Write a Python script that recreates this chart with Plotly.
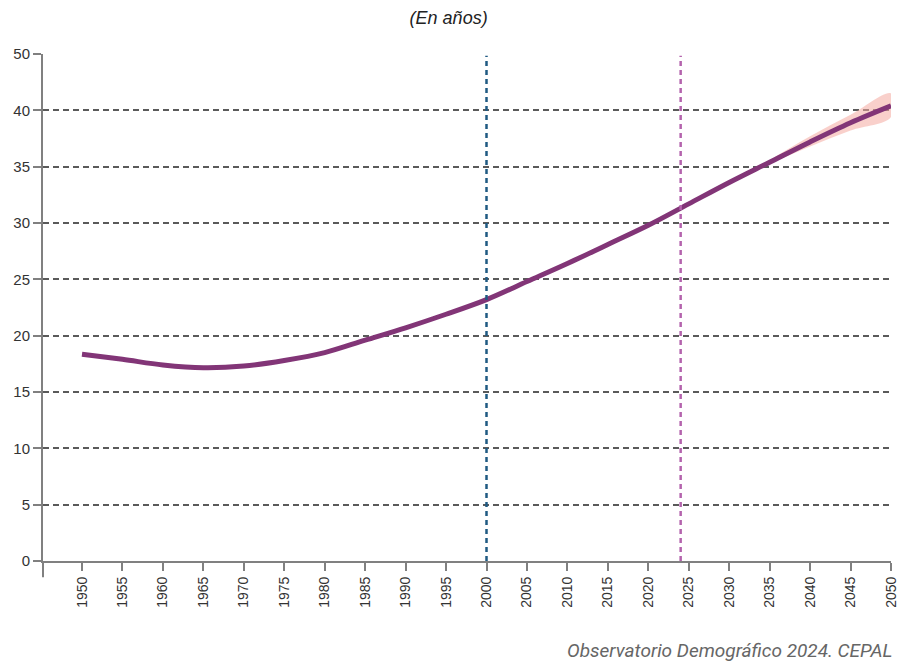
import plotly.graph_objects as go

years = [1950, 1955, 1960, 1965, 1970, 1975, 1980, 1985, 1990, 1995, 2000,
         2005, 2010, 2015, 2020, 2025, 2030, 2035, 2040, 2045, 2050]
median_age = [18.35, 17.9, 17.4, 17.15, 17.3, 17.8, 18.5, 19.6, 20.7, 21.9, 23.2,
              24.8, 26.4, 28.1, 29.8, 31.7, 33.6, 35.4, 37.2, 38.9, 40.4]

band_years = [2030, 2035, 2040, 2045, 2050]
band_lower = [33.6, 35.25, 36.8, 38.2, 39.4]
band_upper = [33.6, 35.6, 37.7, 39.6, 41.5]

y_tickvals = [0, 5, 10, 15, 20, 25, 30, 35, 40, 45]
y_ticktext = ["0", "5", "10", "15", "20", "25", "30", "35", "40", "50"]
x_tickvals = list(range(1950, 2051, 5))

marker_years = [2000, 2024]
marker_colors = ["#1f5a82", "#b463ad"]

fig = go.Figure()

fig.add_trace(go.Scatter(
    x=band_years + band_years[::-1],
    y=band_upper + band_lower[::-1],
    mode="lines",
    fill="toself", fillcolor="rgba(244,170,160,0.55)",
    line=dict(width=0, shape="spline"), hoverinfo="skip", showlegend=False,
))

fig.add_trace(go.Scatter(
    x=years, y=median_age, mode="lines",
    line=dict(color="#823577", width=5, shape="spline", smoothing=1.0),
    showlegend=False,
))

shapes = []
for yr, col in zip(marker_years, marker_colors):
    shapes.append(dict(type="line", xref="x", yref="y", x0=yr, x1=yr, y0=0, y1=44.85,
                       line=dict(color=col, width=2.5, dash="5px,4px"), layer="above"))
# axis extensions (cross-style axes)
shapes.append(dict(type="line", xref="paper", yref="paper", x0=0, x1=0, y0=-0.032, y1=0,
                   line=dict(color="#808080", width=2)))
shapes.append(dict(type="line", xref="paper", yref="paper", x0=-0.0085, x1=0, y0=0, y1=0,
                   line=dict(color="#808080", width=2)))

fig.update_layout(
    width=910, height=667,
    margin=dict(l=43, r=19, t=54, b=106, autoexpand=False),
    paper_bgcolor="white", plot_bgcolor="white",
    font=dict(family="Liberation Sans, Arial, sans-serif", color="#333333", size=13),
    title=dict(text="<i>(En años)</i>", x=0.493, xanchor="center", y=0.973, yanchor="middle",
               font=dict(size=18, color="#222222", family="Liberation Sans, Arial, sans-serif")),
    shapes=shapes,
    annotations=[dict(text="<i>Observatorio Demográfico 2024. CEPAL</i>",
                      xref="paper", yref="paper", x=1.003, xanchor="right",
                      y=-0.177, yanchor="middle", showarrow=False,
                      font=dict(family="Roboto, sans-serif", size=19, color="#666666"))],
)

fig.update_xaxes(
    range=[1945.18, 2050], tickvals=x_tickvals, tickangle=-90,
    showgrid=False, zeroline=False, automargin=False,
    showline=True, linecolor="#808080", linewidth=2,
    ticks="outside", ticklen=8, tickwidth=2, tickcolor="#808080",
    tickfont=dict(size=14, color="#333333"),
)
fig.update_yaxes(
    range=[0, 45], tickvals=y_tickvals, ticktext=y_ticktext,
    showgrid=True, gridcolor="#5a5a5a", gridwidth=1.5, griddash="6px,4px",
    zeroline=False, automargin=False,
    showline=True, linecolor="#808080", linewidth=2,
    ticks="outside", ticklen=8, tickwidth=2, tickcolor="#808080",
    tickfont=dict(size=15, color="#333333"),
)

fig.write_html("out.html", config={"displayModeBar": False},
               post_script="document.body.style.margin='0px';")
